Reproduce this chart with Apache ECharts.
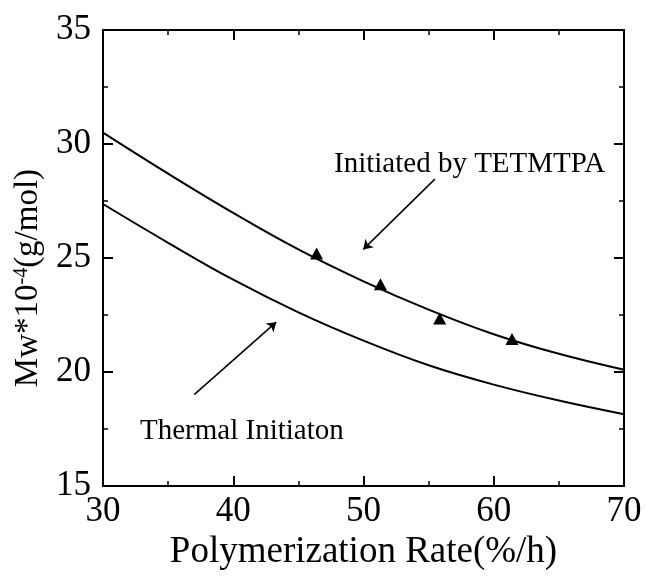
<!DOCTYPE html>
<html>
<head>
<meta charset="utf-8">
<script src="https://cdn.jsdelivr.net/npm/echarts@6/dist/echarts.min.js"></script>
<style>
html,body{margin:0;padding:0;background:#fff;}
#chart{width:647px;height:576px;}
</style>
</head>
<body>
<div id="chart"></div>
<script>
// ---- data ----
var curveX = [30, 35, 40, 45, 50, 55, 60, 65, 70];
var upperY = [30.5, 28.7, 26.98, 25.38, 23.98, 22.74, 21.66, 20.8, 20.1];
var lowerY = [27.37, 25.67, 24.05, 22.62, 21.38, 20.3, 19.45, 18.75, 18.15];
var pointX = [46.4, 51.3, 55.85, 61.4];
var pointY = [25.2, 23.85, 22.35, 21.45];
var xTicks = [30, 40, 50, 60, 70];
var yTicks = [15, 20, 25, 30, 35];
var arrowInitiated = [[55.48, 28.46], [49.98, 25.38]];
var arrowThermal = [[37.0, 19.01], [43.3, 22.19]];
var labelInitiated = 'Initiated by TETMTPA';
var labelThermal = 'Thermal Initiaton';
var xTitle = 'Polymerization Rate(%/h)';

var FONT = '"Liberation Serif", "Times New Roman", serif';
var INK = '#000';

function zip(a, b) { return a.map(function (v, i) { return [v, b[i]]; }); }

var chart = echarts.init(document.getElementById('chart'), null, {renderer: 'canvas'});

function baseX(pos, showLabels) {
  return {
    type: 'value', position: pos, min: xTicks[0], max: xTicks[xTicks.length - 1],
    interval: xTicks[1] - xTicks[0],
    axisLine: {show: true, onZero: false, lineStyle: {color: INK, width: 2}},
    axisTick: {show: true, inside: true, length: 10, lineStyle: {color: INK, width: 2}},
    minorTick: {show: true, splitNumber: 2, length: 5, lineStyle: {color: INK, width: 1.5}},
    splitLine: {show: false},
    axisLabel: {show: showLabels, color: INK, fontFamily: FONT, fontSize: 35, margin: 8}
  };
}
function baseY(pos, showLabels) {
  return {
    type: 'value', position: pos, min: yTicks[0], max: yTicks[yTicks.length - 1],
    interval: yTicks[1] - yTicks[0],
    axisLine: {show: true, onZero: false, lineStyle: {color: INK, width: 2}},
    axisTick: {show: true, inside: true, length: 10, lineStyle: {color: INK, width: 2}},
    minorTick: {show: true, splitNumber: 2, length: 5, lineStyle: {color: INK, width: 1.5}},
    splitLine: {show: false},
    axisLabel: {show: showLabels, color: INK, fontFamily: FONT, fontSize: 35, margin: 12}
  };
}

var xMain = baseX('bottom', true);
xMain.name = xTitle;
xMain.nameLocation = 'middle';
xMain.nameGap = 44;
xMain.nameTextStyle = {color: INK, fontFamily: FONT, fontSize: 37};

var yMain = baseY('left', true);
yMain.name = 'Mw*10{sup|-4}(g/mol)';
yMain.nameLocation = 'middle';
yMain.nameRotate = 90;
yMain.nameGap = 52;
yMain.nameTextStyle = {
  color: INK, fontFamily: FONT, fontSize: 33, padding: [0, 40, 0, 0],
  rich: {sup: {color: INK, fontFamily: FONT, fontSize: 20, verticalAlign: 'top', lineHeight: 20}}
};

var option = {
  backgroundColor: '#fff',
  animation: false,
  grid: {left: 103, right: 23, top: 30, bottom: 87, containLabel: false},
  xAxis: [xMain, baseX('top', false)],
  yAxis: [yMain, baseY('right', false)],
  graphic: [
    {type: 'text', left: 334, top: 150, style: {text: labelInitiated, fill: INK, font: '29px ' + FONT, verticalAlign: 'middle'}},
    {type: 'text', left: 140, top: 417, style: {text: labelThermal, fill: INK, font: '29px ' + FONT, verticalAlign: 'middle'}}
  ],
  series: [
    {name: 'TETMTPA fit', type: 'line', data: zip(curveX, upperY), smooth: 0.4, showSymbol: false,
     lineStyle: {color: INK, width: 2}},
    {name: 'Thermal fit', type: 'line', data: zip(curveX, lowerY), smooth: 0.4, showSymbol: false,
     lineStyle: {color: INK, width: 2}},
    {name: 'TETMTPA data', type: 'scatter', data: zip(pointX, pointY), symbol: 'triangle',
     symbolSize: [13, 12], itemStyle: {color: INK, opacity: 1}},
    {name: 'arrows', type: 'lines', coordinateSystem: 'cartesian2d',
     data: [{coords: arrowInitiated}, {coords: arrowThermal}],
     symbol: ['none', 'arrow'], symbolSize: 9,
     lineStyle: {color: INK, width: 1.5, opacity: 1}}
  ]
};
chart.setOption(option);
</script>
</body>
</html>
